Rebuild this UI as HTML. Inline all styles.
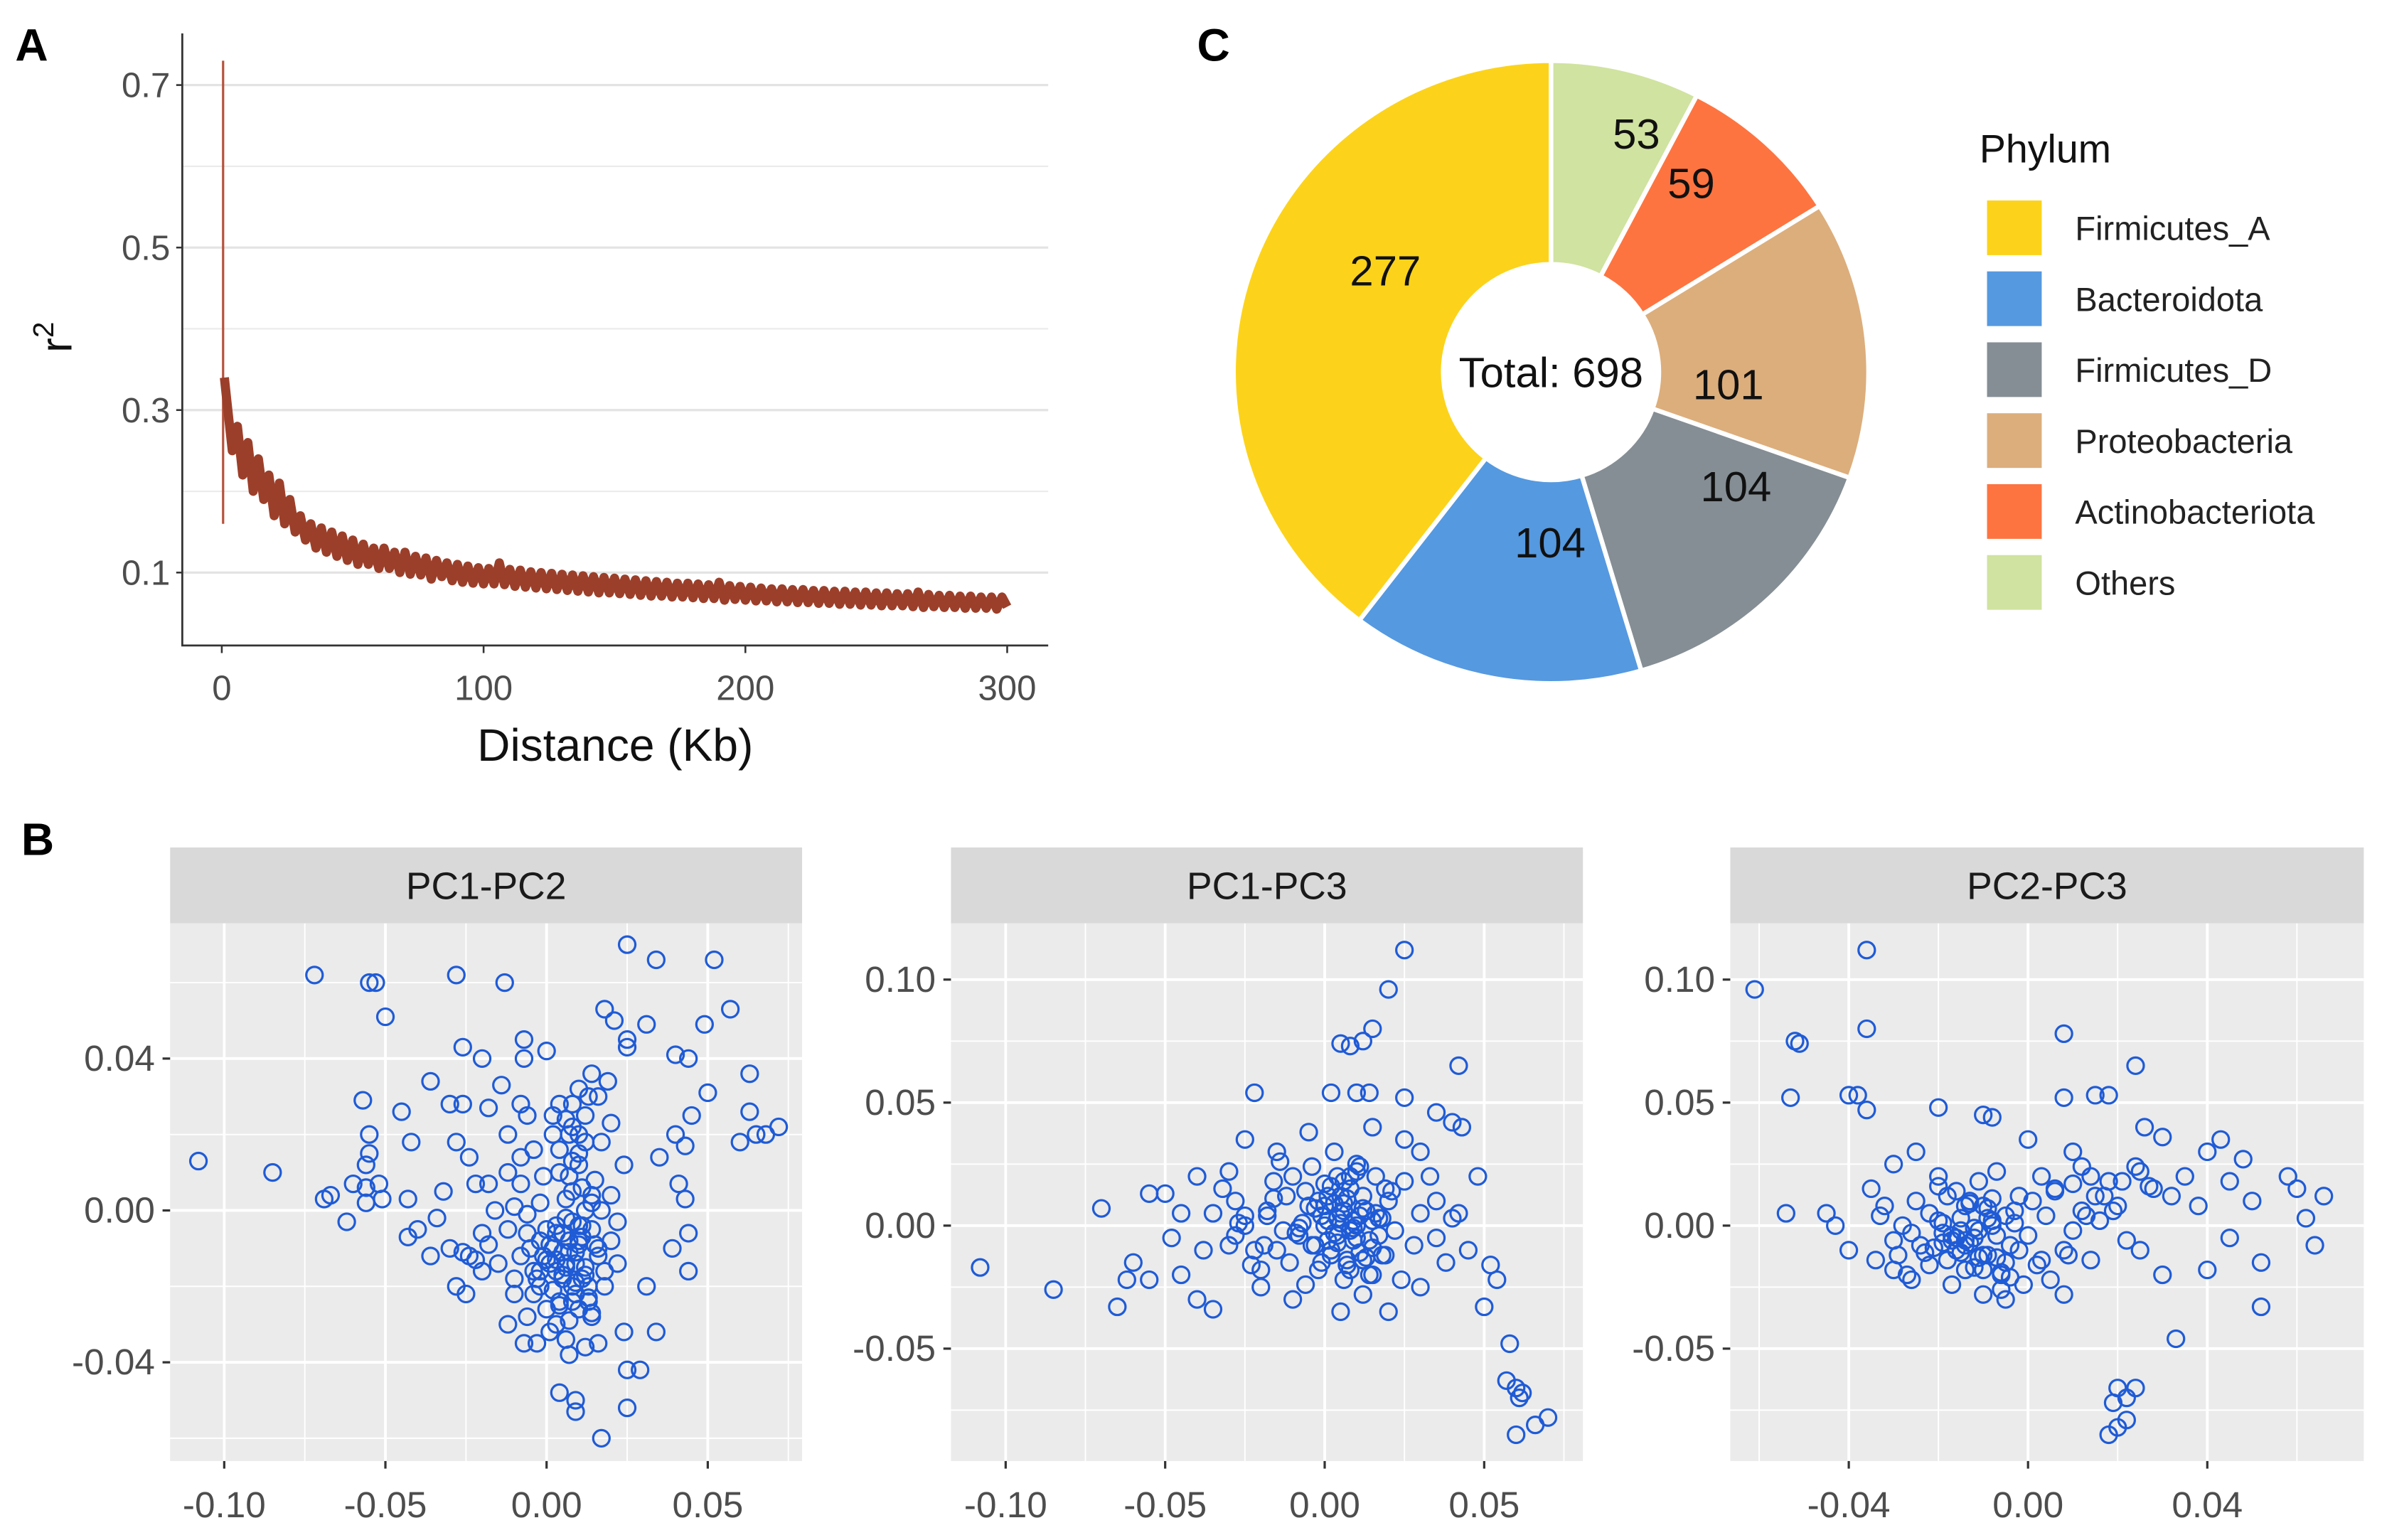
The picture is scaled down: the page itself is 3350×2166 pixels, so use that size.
<!DOCTYPE html>
<html><head><meta charset="utf-8"><style>
html,body{margin:0;padding:0;background:#fff;}
svg{display:block;font-family:"Liberation Sans",Arial,sans-serif;}
</style></head><body>
<svg id="fig" xmlns="http://www.w3.org/2000/svg" width="3350" height="2166" viewBox="0 0 1568 1014" preserveAspectRatio="none">
<rect width="1568" height="1014" fill="#fff"/>
<text x="10" y="40" font-size="30" font-weight="bold">A</text>
<text x="788" y="40" font-size="30" font-weight="bold">C</text>
<text x="14" y="563" font-size="30" font-weight="bold">B</text>
<g id="ga"></g>
<g id="gc"></g>
<g id="gb"></g>
</svg>
<script>
// ---------- Panel A data ----------
const ldTicksX=[0,100,200,300];
const ldTicksY=[0.1,0.3,0.5,0.7];
const ldSpike=[0.5,0.16,0.73];
const ldFirst=[1,0.34];
const ldStep=2;
const ldR2=[0.31,0.25,0.28,0.22,0.26,0.20,0.24,0.19,0.22,0.17,
0.21,0.16,0.19,0.15,0.17,0.14,0.16,0.13,0.155,0.125,
0.15,0.12,0.145,0.115,0.14,0.11,0.135,0.11,0.13,0.105,
0.13,0.105,0.125,0.10,0.125,0.098,0.12,0.097,0.118,0.092,
0.115,0.095,0.112,0.09,0.11,0.088,0.108,0.087,0.106,0.086,
0.105,0.086,0.112,0.085,0.104,0.083,0.103,0.082,0.101,0.081,
0.1,0.08,0.099,0.079,0.098,0.078,0.097,0.077,0.096,0.076,
0.095,0.075,0.094,0.075,0.093,0.074,0.092,0.073,0.091,0.072,
0.09,0.071,0.089,0.071,0.088,0.07,0.087,0.07,0.087,0.069,
0.086,0.068,0.085,0.068,0.088,0.066,0.084,0.067,0.083,0.066,
0.082,0.065,0.081,0.065,0.08,0.064,0.08,0.064,0.079,0.063,
0.079,0.063,0.078,0.062,0.078,0.062,0.077,0.061,0.077,0.061,
0.076,0.06,0.076,0.06,0.075,0.059,0.075,0.059,0.074,0.059,
0.074,0.058,0.076,0.057,0.073,0.058,0.072,0.057,0.072,0.057,
0.071,0.056,0.071,0.056,0.07,0.056,0.07,0.055,0.07,0.058];
// ---------- Panel C data ----------
const phyla=["Others","Actinobacteriota","Proteobacteria","Firmicutes_D","Bacteroidota","Firmicutes_A"];
const counts=[53,59,101,104,104,277];
const legendOrder=["Firmicutes_A","Bacteroidota","Firmicutes_D","Proteobacteria","Actinobacteriota","Others"];
const phylumColors={"Firmicutes_A":"#fcd31a","Bacteroidota":"#5599e0","Firmicutes_D":"#858e94","Proteobacteria":"#dcae7c","Actinobacteriota":"#fe7440","Others":"#d0e3a0"};
// ---------- Panel B data ----------
const pc12X=[-0.108,-0.085,-0.072,-0.055,-0.053,-0.05,-0.028,-0.013,0.025,0.034,0.052,0.057,0.049,0.072,0.063,0.065,0.068,0.060,0.063,0.050,0.045,0.040,0.044,0.018,0.021,0.031,0.025,0.025,-0.007,-0.026,0.000,-0.020,-0.007,-0.036,-0.057,-0.045,-0.055,-0.042,-0.055,-0.056,-0.060,-0.056,-0.052,-0.067,-0.069,-0.051,-0.062,-0.056,-0.043,0.035,0.040,0.043,0.041,0.043,0.044,0.039,0.044,0.031,0.034,0.024,0.025,0.029,0.004,0.009,0.009,0.025,0.017,-0.007,-0.003,0.007,0.016,-0.012,-0.028,-0.025,-0.043,-0.040,-0.030,-0.036,
0.002,0.006,0.010,-0.004,0.008,0.012,0.000,0.004,0.014,-0.008,0.006,0.016,-0.002,0.010,0.003,-0.010,0.018,0.012,0.008,0.004,-0.002,0.015,0.010,0.007,0.012,0.004,0.010,0.014,0.002,-0.004,-0.012,-0.018,-0.022,-0.016,-0.010,-0.020,-0.015,-0.006,0.020,0.022,0.020,0.024,0.017,0.020,0.008,-0.006,-0.012,-0.024,-0.028,-0.030,-0.026,-0.018,-0.032,-0.034,-0.024,-0.006,0.000,0.014,0.006,-0.012,0.001,0.009,0.005,-0.002,0.013,0.011,0.003,0.007,0.017,0.022,-0.008,-0.014,-0.008,0.016,0.019,
0.001,0.003,0.005,0.007,0.009,0.011,0.013,-0.001,-0.003,-0.005,0.002,0.004,0.006,0.008,0.010,0.012,0.014,0.000,-0.004,-0.006,0.003,0.005,0.009,0.011,0.013,0.015,0.007,0.001,-0.002,0.006,0.010,0.004,0.008,0.012,0.002,-0.008,0.016,0.018,0.009,0.005,0.011,0.013,0.007,0.003,-0.010,0.014,-0.001,0.008,0.006,0.010,-0.018,-0.022,-0.026,-0.020,0.012,0.010,0.014,0.008];
const pc12Y=[0.013,0.010,0.062,0.060,0.060,0.051,0.062,0.060,0.070,0.066,0.066,0.053,0.049,0.022,0.026,0.020,0.020,0.018,0.036,0.031,0.025,0.041,0.040,0.053,0.050,0.049,0.045,0.043,0.045,0.043,0.042,0.040,0.040,0.034,0.029,0.026,0.020,0.018,0.015,0.012,0.007,0.006,0.007,0.004,0.003,0.003,-0.003,0.002,0.003,0.014,0.020,0.017,0.007,0.003,-0.006,-0.010,-0.016,-0.020,-0.032,-0.032,-0.042,-0.042,-0.048,-0.050,-0.053,-0.052,-0.060,-0.035,-0.035,-0.038,-0.035,-0.030,-0.020,-0.022,-0.007,-0.005,-0.010,-0.012,
-0.010,-0.014,-0.008,-0.016,-0.020,-0.015,-0.005,-0.024,-0.005,-0.012,-0.002,-0.012,-0.020,-0.026,-0.030,-0.022,-0.020,0.000,0.005,0.010,0.002,0.008,0.015,0.020,0.025,0.028,0.032,0.036,0.020,0.016,0.010,0.007,0.007,0.000,0.001,-0.006,-0.014,-0.006,-0.008,-0.003,0.004,0.012,0.018,0.023,0.028,0.025,0.020,0.014,0.018,0.028,0.028,0.027,0.005,-0.002,-0.012,-0.028,-0.026,-0.028,-0.034,-0.005,-0.014,-0.011,-0.018,-0.008,-0.020,-0.004,-0.016,-0.008,0.000,-0.014,0.007,0.033,0.028,0.030,0.034,
-0.009,-0.013,-0.017,-0.011,-0.019,-0.007,-0.023,-0.012,-0.018,-0.010,-0.021,-0.025,-0.015,-0.003,-0.009,-0.017,-0.027,-0.013,-0.022,-0.001,-0.006,-0.011,-0.014,-0.018,-0.024,-0.009,-0.029,-0.032,-0.016,0.003,0.012,0.016,0.022,0.018,0.025,0.014,-0.010,-0.016,-0.022,-0.006,0.006,0.030,0.009,-0.004,-0.018,0.004,0.009,0.013,0.024,0.020,-0.009,-0.013,-0.011,-0.016,-0.036,-0.004,0.002,-0.024];
const pc13X=[-0.108,-0.085,-0.065,-0.070,-0.055,-0.050,0.025,0.020,0.015,0.012,0.008,0.005,0.042,-0.022,0.002,0.010,0.014,0.025,0.035,0.040,0.043,0.048,0.042,0.045,0.052,0.054,0.050,0.058,0.057,0.060,0.062,0.061,0.066,0.060,0.070,-0.040,-0.035,-0.045,-0.060,-0.062,-0.055,-0.025,-0.015,-0.005,0.015,0.025,0.030,-0.030,-0.040,-0.045,-0.048,0.035,0.038,0.030,0.020,0.005,-0.010,
0.000,0.005,0.010,-0.005,0.012,0.002,-0.008,0.015,0.008,-0.012,0.004,-0.002,0.018,0.020,-0.015,0.006,-0.018,0.010,-0.004,0.014,0.022,-0.020,-0.025,0.025,0.001,0.007,-0.010,0.016,-0.006,0.012,0.003,-0.014,0.028,-0.028,-0.030,0.030,0.009,-0.001,0.004,0.013,-0.007,0.006,0.011,-0.003,0.017,-0.011,0.019,0.000,0.008,-0.016,-0.035,-0.038,0.035,0.033,-0.020,0.024,-0.032,0.040,
0.001,0.003,0.006,0.009,0.011,0.014,-0.002,-0.004,0.002,0.005,0.008,0.012,0.015,0.018,-0.006,-0.009,0.000,0.004,0.007,0.010,0.013,0.016,-0.001,0.003,0.006,0.009,-0.013,-0.018,-0.022,-0.025,-0.019,-0.027,-0.023,-0.016,-0.028,0.021,0.019,0.002,0.010,0.007,0.004,0.012,-0.003,0.015,0.005,0.008,-0.008,0.011,0.001,0.017];
const pc13Y=[-0.017,-0.026,-0.033,0.007,0.013,0.013,0.112,0.096,0.080,0.075,0.073,0.074,0.065,0.054,0.054,0.054,0.054,0.052,0.046,0.042,0.040,0.020,0.005,-0.010,-0.016,-0.022,-0.033,-0.048,-0.063,-0.066,-0.068,-0.070,-0.081,-0.085,-0.078,-0.030,-0.034,-0.020,-0.015,-0.022,-0.022,0.035,0.030,0.038,0.040,0.035,0.030,0.022,0.020,0.005,-0.005,0.010,-0.015,-0.025,-0.035,-0.035,-0.030,
0.000,0.005,-0.005,0.008,0.012,-0.010,-0.004,0.002,0.015,0.012,0.020,-0.018,-0.012,0.010,-0.010,-0.022,0.004,0.025,0.024,-0.020,-0.002,-0.018,0.000,0.018,0.012,-0.014,0.020,0.020,-0.024,-0.028,0.030,0.026,-0.008,0.010,-0.008,0.005,0.002,0.004,-0.004,0.006,0.001,0.009,-0.011,-0.008,-0.004,-0.015,0.015,0.017,-0.018,0.018,0.005,-0.010,-0.005,0.020,-0.025,-0.022,0.015,0.003,
0.002,-0.003,0.006,-0.001,0.004,-0.006,0.010,-0.008,-0.012,0.001,-0.002,0.007,-0.009,0.003,0.014,-0.003,0.008,-0.007,0.011,0.000,-0.013,0.005,-0.015,0.009,0.018,-0.006,-0.002,0.006,-0.010,0.004,-0.008,0.001,-0.016,0.011,-0.004,0.014,-0.012,0.016,0.022,-0.016,0.003,-0.014,0.007,-0.020,0.012,0.020,-0.001,0.024,-0.006,0.003];
const pc23X=[-0.061,-0.052,-0.051,-0.053,-0.036,-0.036,-0.040,-0.038,-0.036,-0.054,-0.045,-0.043,0.008,0.008,0.015,0.018,0.024,-0.020,-0.010,-0.008,0.026,0.030,0.040,0.043,0.048,0.058,0.060,0.066,0.062,0.064,0.052,0.052,0.033,0.040,0.045,0.038,0.020,0.022,0.024,0.019,0.020,0.018,0.022,0.030,0.025,0.035,0.032,0.050,0.045,-0.030,-0.025,-0.035,-0.040,-0.030,0.000,0.010,-0.005,0.008,
-0.012,-0.008,-0.016,-0.004,-0.020,-0.010,-0.014,0.000,-0.024,-0.006,0.004,-0.018,-0.028,-0.002,0.008,-0.022,-0.011,0.006,-0.030,0.012,-0.015,-0.009,-0.005,-0.019,-0.013,0.002,-0.025,0.010,-0.001,-0.017,0.015,0.018,0.020,0.014,0.022,0.025,0.016,-0.032,-0.034,-0.026,-0.007,0.003,0.028,0.012,-0.020,-0.010,0.005,-0.003,-0.014,-0.007,
-0.011,-0.013,-0.009,-0.015,-0.017,-0.007,-0.019,-0.021,-0.005,-0.003,-0.012,-0.016,-0.010,-0.008,-0.014,-0.018,-0.022,-0.006,-0.002,-0.026,-0.012,-0.009,-0.015,-0.019,-0.004,-0.023,-0.013,-0.017,-0.008,-0.011,0.001,0.006,0.010,0.014,0.017,0.021,0.024,0.027,0.019,0.013,-0.029,-0.033,-0.027,-0.016,-0.006,-0.010,-0.020,-0.014,0.003,0.009];
const pc23Y=[0.096,0.075,0.074,0.052,0.112,0.080,0.053,0.053,0.047,0.005,0.005,0.000,0.078,0.052,0.053,0.053,0.065,0.048,0.045,0.044,0.040,0.036,0.030,0.035,0.027,0.020,0.015,0.012,0.003,-0.008,-0.015,-0.033,-0.046,-0.018,-0.005,0.008,-0.066,-0.070,-0.066,-0.072,-0.082,-0.085,-0.079,-0.020,-0.010,0.020,0.012,0.010,0.018,0.025,0.030,0.015,-0.010,-0.018,0.035,0.030,-0.030,-0.028,
-0.005,0.000,-0.010,-0.008,0.002,0.008,-0.018,-0.004,-0.008,-0.020,0.004,0.012,0.000,0.012,-0.010,-0.016,0.018,0.014,-0.006,0.006,0.003,-0.012,0.004,-0.003,0.010,-0.016,0.010,-0.002,-0.024,-0.024,0.012,0.018,0.008,-0.014,-0.006,0.022,0.002,0.008,-0.014,-0.022,0.022,0.020,0.015,0.024,0.020,-0.028,-0.022,0.001,-0.006,-0.004,
-0.002,-0.007,0.003,-0.011,-0.004,-0.013,0.001,-0.009,-0.015,0.006,-0.001,-0.005,-0.012,0.002,-0.008,-0.014,0.005,-0.019,-0.010,-0.003,-0.017,0.007,-0.002,-0.007,-0.021,-0.011,0.009,-0.006,0.011,-0.013,0.010,0.015,0.017,0.020,0.012,0.018,0.024,0.016,0.006,0.004,-0.012,0.004,-0.020,0.014,-0.026,-0.018,0.016,0.008,-0.014,-0.012];
const facetTitles=["PC1-PC2","PC1-PC3","PC2-PC3"];
const f1TicksX=[-0.10,-0.05,0.00,0.05], f1TicksY=[-0.04,0.00,0.04];
const f2TicksX=[-0.10,-0.05,0.00,0.05], f2TicksY=[-0.05,0.00,0.05,0.10];
const f3TicksX=[-0.04,0.00,0.04], f3TicksY=[-0.05,0.00,0.05,0.10];

const NS="http://www.w3.org/2000/svg";
function mk(parent,tag,attrs,text){const e=document.createElementNS(NS,tag);for(const k in attrs)e.setAttribute(k,attrs[k]);if(text!==undefined)e.textContent=text;parent.appendChild(e);return e;}

// ---------- Panel A ----------
(function(){
const g=document.getElementById('ga');
const X0=120,X1=690,Y0=22,Y1=425;
const sx=v=>146+(v-0)*(663-146)/300;
const sy=v=>377-(v-0.1)*(377-56)/0.6;
[0.2,0.4,0.6].forEach(v=>{const l=mk(g,'line',{x1:X0,x2:X1,y1:sy(v),y2:sy(v),stroke:'#ebebeb','stroke-width':1});

});
ldTicksY.forEach(v=>{const l=mk(g,'line',{x1:X0,x2:X1,y1:sy(v),y2:sy(v),stroke:'#e3e3e3','stroke-width':1.5});


mk(g,'line',{x1:X0-4,x2:X0,y1:sy(v),y2:sy(v),stroke:'#333','stroke-width':1.2});
const t=mk(g,'text',{x:X0-8,y:sy(v)+8,'font-size':23,fill:'#4d4d4d','text-anchor':'end'},v.toFixed(1));

});
ldTicksX.forEach(v=>{mk(g,'line',{x1:sx(v),x2:sx(v),y1:Y1,y2:Y1+5,stroke:'#333','stroke-width':1.2});
const t=mk(g,'text',{x:sx(v),y:Y1+36,'font-size':23,fill:'#4d4d4d','text-anchor':'middle'},String(v));

});
const sp=mk(g,'line',{x1:sx(ldSpike[0]),x2:sx(ldSpike[0]),y1:sy(ldSpike[1]),y2:sy(ldSpike[2]),stroke:'#b5523c','stroke-width':1.5});


const pts=[sx(ldFirst[0]).toFixed(1)+','+sy(ldFirst[1]).toFixed(1)];
ldR2.forEach((v,i)=>pts.push(sx((i+1)*ldStep).toFixed(1)+','+sy(v).toFixed(1)));
const pl=mk(g,'polyline',{points:pts.join(' '),fill:'none',stroke:'#9c3f2a','stroke-width':6,'stroke-linejoin':'round'});


mk(g,'polyline',{points:`${X0},${Y0} ${X0},${Y1} ${X1},${Y1}`,fill:'none',stroke:'#333','stroke-width':1.3});
const xt=mk(g,'text',{x:405,y:501,'font-size':30,fill:'#111','text-anchor':'middle'},'Distance (Kb)');


const yt=mk(g,'text',{x:0,y:0,'font-size':29,fill:'#111','text-anchor':'middle',transform:'translate(47,222) rotate(-90)'});


yt.innerHTML='r<tspan font-size="19" dy="-12">2</tspan>';
})();

// ---------- Panel C ----------
(function(){
const g=document.getElementById('gc');
const cx=1021,cy=245,rx=209,ry=205,ir=71;
// label placement nudges (angle deg, radius) - styling only
const labelNudge=[[6,167],[-6,155],[10,117],[-15,143],[-10,112],[13,128]];
const total=counts.reduce((a,b)=>a+b,0);
let a0=0;
counts.forEach((c,i)=>{
 const a1=a0+c/total*2*Math.PI;
 const P=(a,r1,r2)=>[cx+r1*Math.sin(a),cy-r2*Math.cos(a)];
 const [x0,y0]=P(a0,rx,ry),[x1,y1]=P(a1,rx,ry),[x2,y2]=P(a1,ir,ir),[x3,y3]=P(a0,ir,ir);
 const lg=(a1-a0)>Math.PI?1:0;
 const p=mk(g,'path',{d:`M${x0},${y0} A${rx},${ry} 0 ${lg} 1 ${x1},${y1} L${x2},${y2} A${ir},${ir} 0 ${lg} 0 ${x3},${y3} Z`,fill:phylumColors[phyla[i]],stroke:'#fff','stroke-width':3});
 
 
 const am=(a0+a1)/2+labelNudge[i][0]*Math.PI/180,[lx,ly]=P(am,labelNudge[i][1],labelNudge[i][1]);
 const t=mk(g,'text',{x:lx,y:ly+10,'font-size':28,fill:'#111','text-anchor':'middle'},String(c));
 
 
 a0=a1;});
const tt=mk(g,'text',{x:cx,y:cy+10,'font-size':28,fill:'#111','text-anchor':'middle'},'Total: '+total);


const lt=mk(g,'text',{x:1303,y:107,'font-size':26,fill:'#111'},'Phylum');


legendOrder.forEach((n,i)=>{const y=132+i*46.7;
 const r=mk(g,'rect',{x:1308,y:y,width:36,height:36,fill:phylumColors[n]});
 
 
 const t=mk(g,'text',{x:1366,y:y+26,'font-size':22,fill:'#222'},n);
 
 });
})();

// ---------- Panel B ----------
(function(){
const g=document.getElementById('gb');
const facets=[
 {L:112,R:528,xs:[147.6,359.8],xv:[-0.10,0],ys:[797,697],yv:[0,0.04],tx:f1TicksX,ty:f1TicksY,dx:pc12X,dy:pc12Y,fx:v=>v.toFixed(2)},
 {L:626,R:1042,xs:[662,872],xv:[-0.10,0],ys:[807,726],yv:[0,0.05],tx:f2TicksX,ty:f2TicksY,dx:pc13X,dy:pc13Y,fx:v=>v.toFixed(2)},
 {L:1139,R:1556,xs:[1217,1335],xv:[-0.04,0],ys:[807,726],yv:[0,0.05],tx:f3TicksX,ty:f3TicksY,dx:pc23X,dy:pc23Y,fx:v=>v.toFixed(2)}];
const ST=558,SB=608,PB=962;
facets.forEach((f,k)=>{
 const sx=v=>f.xs[0]+(v-f.xv[0])*(f.xs[1]-f.xs[0])/(f.xv[1]-f.xv[0]);
 const sy=v=>f.ys[0]+(v-f.yv[0])*(f.ys[1]-f.ys[0])/(f.yv[1]-f.yv[0]);
 const strip=mk(g,'rect',{x:f.L,y:ST,width:f.R-f.L,height:SB-ST,fill:'#d9d9d9'});
 
 
 const st=mk(g,'text',{x:(f.L+f.R)/2,y:ST+34,'font-size':25,fill:'#1a1a1a','text-anchor':'middle'},facetTitles[k]);
 
 
 const bg=mk(g,'rect',{x:f.L,y:SB,width:f.R-f.L,height:PB-SB,fill:'#ebebeb'});
 
 
 const dxs=f.tx[1]-f.tx[0],dys=f.ty[1]-f.ty[0];
 for(let v=f.tx[0]-dxs*2.5;v<=f.tx[f.tx.length-1]+dxs*2.5;v+=dxs/2){const x=sx(v);if(x<f.L||x>f.R)continue;
  const major=f.tx.some(t=>Math.abs(t-v)<1e-9);
  mk(g,'line',{x1:x,x2:x,y1:SB,y2:PB,stroke:'#fff','stroke-width':major?1.8:0.9});}
 for(let v=f.ty[0]-dys*2.5;v<=f.ty[f.ty.length-1]+dys*2.5;v+=dys/2){const y=sy(v);if(y<SB||y>PB)continue;
  const major=f.ty.some(t=>Math.abs(t-v)<1e-9);
  mk(g,'line',{x1:f.L,x2:f.R,y1:y,y2:y,stroke:'#fff','stroke-width':major?1.8:0.9});}
 f.tx.forEach(v=>{mk(g,'line',{x1:sx(v),x2:sx(v),y1:PB,y2:PB+5,stroke:'#333','stroke-width':1.5});
  const t=mk(g,'text',{x:sx(v),y:PB+37,'font-size':24,fill:'#4d4d4d','text-anchor':'middle'},f.fx(v));
  
  });
 f.ty.forEach(v=>{mk(g,'line',{x1:f.L-5,x2:f.L,y1:sy(v),y2:sy(v),stroke:'#333','stroke-width':1.5});
  const t=mk(g,'text',{x:f.L-10,y:sy(v)+8,'font-size':24,fill:'#4d4d4d','text-anchor':'end'},f.fx(v));
  
  });
 f.dx.forEach((v,i)=>{const c=mk(g,'circle',{cx:sx(v),cy:sy(f.dy[i]),r:5.4,fill:'none',stroke:'#1f5bd6','stroke-width':1.5});
  
  });
});
})();
</script>
</body></html>
